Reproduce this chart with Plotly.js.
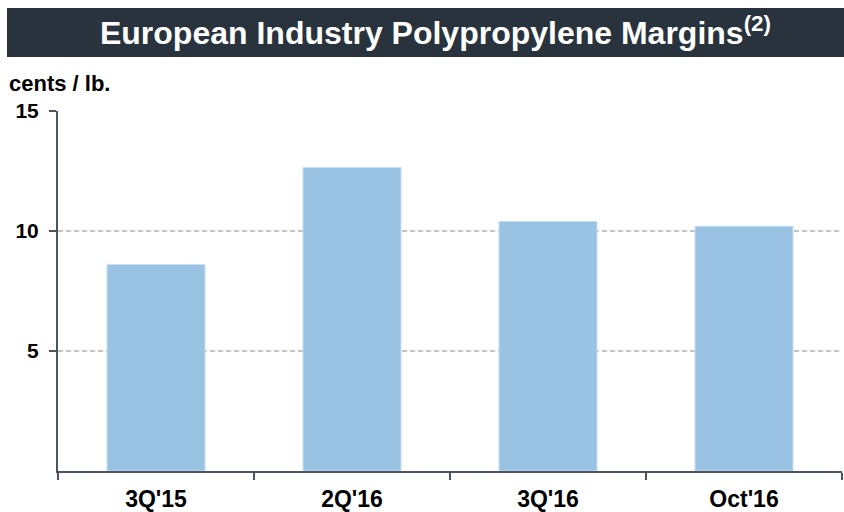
<!DOCTYPE html>
<html>
<head>
<meta charset="utf-8">
<script src="https://cdn.plot.ly/plotly-3.0.1.min.js"></script>
<style>html,body{margin:0;padding:0;background:#fff;}#chart{width:844px;height:512px;}</style>
</head>
<body>
<div id="chart"></div>
<script>
const categories = ["3Q'15", "2Q'16", "3Q'16", "Oct'16"];
const margins = [8.6, 12.65, 10.4, 10.2];
const yTickVals = [5, 10, 15];
const chartTitle = "European Industry Polypropylene Margins<sup>(2)</sup>";
const unitLabel = "cents / lb.";

const data = [{
  type: 'bar',
  x: categories,
  y: margins,
  marker: {color: '#9ac3e3', line: {color: '#c8dff0', width: 1}},
  hoverinfo: 'x+y'
}];

const layout = {
  width: 844, height: 512,
  margin: {l: 58, r: 2, t: 111, b: 41},
  paper_bgcolor: '#ffffff', plot_bgcolor: '#ffffff',
  bargap: 0.5,
  showlegend: false,
  font: {family: 'Liberation Sans, Arial, sans-serif', color: '#000'},
  title: {
    text: chartTitle,
    font: {family: 'Liberation Sans, Arial, sans-serif', size: 32, color: '#ffffff', weight: 'bold'},
    x: 0.516, xanchor: 'center', xref: 'container',
    y: 1 - 33/512, yanchor: 'middle', yref: 'container'
  },
  xaxis: {
    type: 'category',
    range: [-0.5, 3.5],
    showline: true, linecolor: '#4a5560', linewidth: 2,
    ticks: 'outside', tickson: 'boundaries', ticklen: 7, tickcolor: '#4a5560', tickwidth: 2,
    showgrid: false, zeroline: false,
    tickfont: {size: 23, family: 'Liberation Sans, Arial, sans-serif', weight: 'bold', color: '#000'},
    ticklabelstandoff: 6,
    fixedrange: true
  },
  yaxis: {
    range: [0, 15],
    tickvals: yTickVals,
    ticktext: yTickVals.map(String),
    showline: true, linecolor: '#4a5560', linewidth: 2,
    ticks: 'outside', ticklen: 7, tickcolor: '#4a5560', tickwidth: 2,
    showgrid: true, gridcolor: '#c4c4c4', griddash: '5px,3px', gridwidth: 1.5,
    zeroline: false,
    tickfont: {size: 21, family: 'Liberation Sans, Arial, sans-serif', weight: 'bold', color: '#000'},
    ticklabelstandoff: 6,
    fixedrange: true
  },
  shapes: [{
    type: 'rect', xref: 'paper', yref: 'paper',
    x0: (7 - 58) / 784, x1: (846 - 58) / 784,
    y0: (471 - 57) / 360, y1: (471 - 8) / 360,
    fillcolor: '#28333d', line: {width: 0}, layer: 'below'
  }],
  annotations: [{
    text: unitLabel, xref: 'paper', yref: 'paper',
    x: (7 - 58) / 784, xanchor: 'left',
    y: (471 - 83) / 360, yanchor: 'middle',
    showarrow: false,
    font: {size: 22, family: 'Liberation Sans, Arial, sans-serif', weight: 'bold', color: '#000'}
  }]
};

Plotly.newPlot('chart', data, layout, {displayModeBar: false, staticPlot: true});
</script>
</body>
</html>
